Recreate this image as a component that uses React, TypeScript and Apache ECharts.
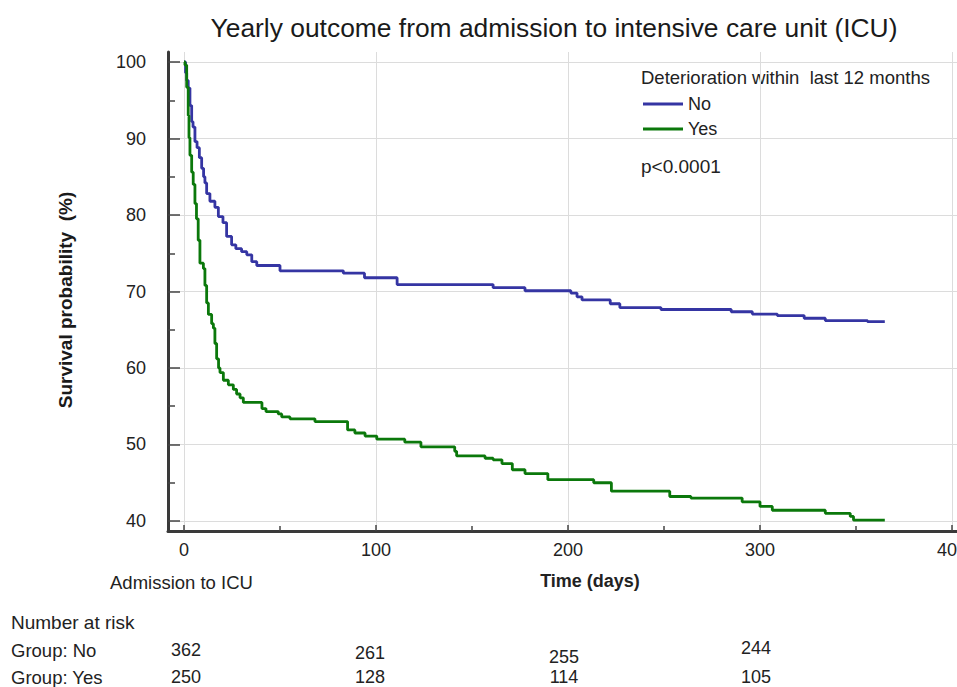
import React, { useEffect, useRef } from "react";
import * as echarts from "echarts";

const noTimes = [0, 0.8, 1.4, 2.2, 3.1, 4.0, 4.7, 5.7, 6.8, 8.0, 9.2, 10.2, 10.9, 11.8, 13.5, 16.1, 17.9, 20.3, 22.2, 24.8, 27, 30, 32.7, 35.3, 37.9, 50, 83, 94, 111, 161, 177.6, 201.5, 204.7, 207.3, 222, 227, 248.4, 285, 296, 309, 323, 334, 356, 365];
const noSurvival = [100, 98.6, 97.6, 96.6, 94.3, 92.2, 91.5, 89.6, 88.8, 87.5, 86.1, 85.0, 84.2, 82.8, 81.8, 81.0, 79.8, 79.0, 77.2, 76.1, 75.6, 75.2, 74.8, 73.9, 73.4, 72.7, 72.4, 71.8, 70.9, 70.5, 70.1, 69.8, 69.3, 68.9, 68.4, 67.9, 67.65, 67.35, 67.05, 66.85, 66.5, 66.2, 66.05, 66.05];

const yesTimes = [0, 0.5, 1.4, 2.2, 2.6, 3.1, 4.0, 4.8, 5.7, 6.5, 7.4, 8.3, 10.1, 10.9, 11.8, 12.7, 14.4, 15.3, 16.1, 17, 18, 18.75, 20.5, 23.1, 25.7, 27.4, 29.2, 30.9, 40.6, 42.7, 49.1, 50.9, 55.2, 68.2, 85.2, 89, 94.3, 100.4, 115, 123.4, 141, 142, 156.8, 161, 165.6, 171, 177.6, 189.5, 213.4, 222.6, 253, 264, 290.7, 300, 306.4, 334, 347, 348.7, 365];
const yesSurvival = [100, 99.6, 96.7, 93.0, 90.1, 87.8, 85.6, 84.0, 81.5, 79.5, 76.7, 73.7, 73.0, 70.8, 68.5, 67.0, 65.8, 65.2, 63.2, 61.2, 60.0, 59.4, 58.4, 57.8, 57.2, 56.6, 56.1, 55.5, 54.7, 54.3, 54.0, 53.6, 53.35, 53.0, 51.9, 51.5, 51.1, 50.7, 50.3, 49.7, 49.1, 48.5, 48.2, 48.0, 47.5, 46.7, 46.2, 45.4, 45.0, 43.9, 43.2, 43.0, 42.5, 41.9, 41.4, 41.0, 40.6, 40.1, 40.1];

const xMajorTicks = [0, 100, 200, 300, 400];
const xMinorTicks = [50, 150, 250, 350];
const yMajorTicks = [40, 50, 60, 70, 80, 90, 100];
const yMinorTicks = [45, 55, 65, 75, 85, 95];

const groupNames = ["No", "Yes"];
const riskNo = [362, 261, 255, 244];
const riskYes = [250, 128, 114, 105];

const titleText = "Yearly outcome from admission to intensive care unit (ICU)";
const legendTitle = "Deterioration within  last 12 months";
const pText = "p<0.0001";

const FONT = "'Liberation Sans', Arial, sans-serif";
const BLUE = "#3535a3";
const GREEN = "#0b780b";

export default function App() {
  const ref = useRef<HTMLDivElement>(null);
  useEffect(() => {
    if (!ref.current) return;
    const chart = echarts.init(ref.current, null, { renderer: "svg" });
    const xMin = -8.33;
    const xMax = 402.6;
    const yMin = 38.69;
    const yMax = 101.31;
    const riskX = [186, 370, 564, 756];
    const riskNoY = [650, 653, 657, 648];
    const riskYesY = [677, 677, 677, 677];
    const textEl = (text: string, x: number, y: number, extra: any = {}) => ({
      type: "text",
      x,
      y,
      style: {
        text,
        fontFamily: FONT,
        fontSize: 18,
        fill: "#222",
        textVerticalAlign: "middle",
        ...extra,
      },
    });
    const graphics: any[] = [
      textEl(titleText, 554, 28, { fontSize: 26.4, textAlign: "center", fill: "#1a1a1a" }),
      textEl(legendTitle, 641, 77, { fontSize: 18.5 }),
      textEl(pText, 641, 166, { fontSize: 19 }),
      {
        type: "text",
        x: 65,
        y: 300,
        rotation: Math.PI / 2,
        style: {
          text: "Survival probability  (%)",
          fontFamily: FONT,
          fontSize: 19,
          fontWeight: "bold",
          fill: "#1a1a1a",
          textAlign: "center",
          textVerticalAlign: "middle",
        },
      },
      textEl("Admission to ICU", 110, 582, { fontSize: 18.5 }),
      textEl("Time (days)", 590, 581, { textAlign: "center", fontWeight: "bold" }),
      textEl("Number at risk", 11, 622, { fontSize: 19 }),
      textEl("Group: " + groupNames[0], 11, 650, { fontSize: 18.5 }),
      textEl("Group: " + groupNames[1], 11, 677, { fontSize: 18.5 }),
    ];
    riskNo.forEach((v, i) => graphics.push(textEl(String(v), riskX[i], riskNoY[i], { textAlign: "center" })));
    riskYes.forEach((v, i) => graphics.push(textEl(String(v), riskX[i], riskYesY[i], { textAlign: "center" })));

    const axisLabelStyle = { fontFamily: FONT, fontSize: 18, color: "#222" };
    chart.setOption({
      animation: false,
      backgroundColor: "#ffffff",
      grid: { left: 168, top: 52, right: 0, bottom: 156, containLabel: false, outerBoundsMode: "none" },
      legend: {
        data: groupNames,
        orient: "vertical",
        left: 643,
        top: 95,
        padding: 0,
        itemWidth: 40,
        itemHeight: 3,
        itemGap: 7,
        icon: "rect",
        textStyle: { fontFamily: FONT, fontSize: 18, color: "#222", lineHeight: 18 },
      },
      xAxis: [
        {
          type: "value",
          min: xMin,
          max: xMax,
          axisLine: { show: true, onZero: false, lineStyle: { color: "#3a3a3a", width: 3 } },
          axisTick: { show: true, inside: true, length: 6, customValues: xMajorTicks, lineStyle: { color: "#444", width: 1.5 } },
          axisLabel: { ...axisLabelStyle, margin: 10, customValues: xMajorTicks, showMaxLabel: true, hideOverlap: false },
          splitLine: { show: true, lineStyle: { color: "#dcdcdc", width: 1 } },
        },
        {
          type: "value",
          min: xMin,
          max: xMax,
          position: "bottom",
          axisLine: { show: false, onZero: false },
          axisTick: { show: true, inside: true, length: 5, customValues: xMinorTicks, lineStyle: { color: "#444", width: 1.5 } },
          axisLabel: { show: false },
          splitLine: { show: false },
        },
      ],
      yAxis: [
        {
          type: "value",
          min: yMin,
          max: yMax,
          axisLine: { show: true, onZero: false, lineStyle: { color: "#3a3a3a", width: 3 } },
          axisTick: { show: true, inside: true, length: 12, customValues: yMajorTicks, lineStyle: { color: "#444", width: 1.5 } },
          axisLabel: { ...axisLabelStyle, margin: 22, customValues: yMajorTicks },
          splitLine: { show: true, lineStyle: { color: "#dcdcdc", width: 1 } },
        },
        {
          type: "value",
          min: yMin,
          max: yMax,
          position: "left",
          offset: 0,
          axisLine: { show: false, onZero: false },
          axisTick: { show: true, inside: true, length: 7, customValues: yMinorTicks, lineStyle: { color: "#444", width: 1.5 } },
          axisLabel: { show: false },
          splitLine: { show: false },
        },
      ],
      series: [
        {
          name: groupNames[0],
          type: "line",
          step: "end",
          showSymbol: false,
          symbol: "none",
          data: noTimes.map((t, i) => [t, noSurvival[i]]),
          lineStyle: { color: BLUE, width: 2.8 },
          itemStyle: { color: BLUE },
          z: 3,
        },
        {
          name: groupNames[1],
          type: "line",
          step: "end",
          showSymbol: false,
          symbol: "none",
          data: yesTimes.map((t, i) => [t, yesSurvival[i]]),
          lineStyle: { color: GREEN, width: 2.8 },
          itemStyle: { color: GREEN },
          z: 4,
        },
      ],
      graphic: graphics,
    });
    return () => chart.dispose();
  }, []);
  return (
    <div
      ref={ref}
      style={{ position: "fixed", left: 0, top: 0, width: 957, height: 687, background: "#fff" }}
    />
  );
}
